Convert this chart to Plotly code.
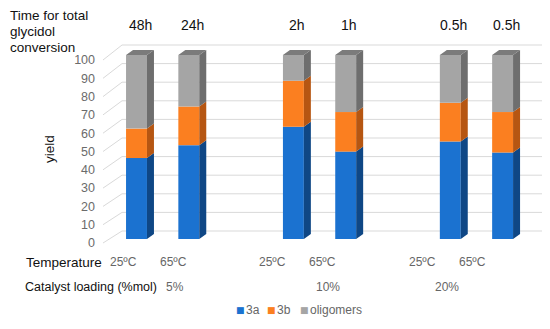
import plotly.graph_objects as go

# ---------------- data ----------------
positions = [0, 1, 3, 4, 6, 7]          # slot index of each bar
yield_3a = [44, 51, 61, 47.5, 53, 47]
yield_3b = [16, 21, 25, 21.5, 21, 22]
yield_olig = [40, 28, 14, 31, 26, 31]
times = ["48h", "24h", "2h", "1h", "0.5h", "0.5h"]
temperatures = ["25ºC", "65ºC", "25ºC", "65ºC", "25ºC", "65ºC"]
loadings = ["5%", "10%", "20%"]
loading_pos = [0.74, 3.66, 5.94]
y_ticks = list(range(0, 101, 10))

# ---------------- geometry (reference pixels) ----------------
W, H = 550, 329
OFF = 8                          # page body margin
L, R, T, B = 103, 542, 40, 245
SLOT = 52.3
X0 = -(136.5 - L) / SLOT
X1 = X0 + (R - L) / SLOT
PXU = 1.84                      # front-scale px per unit
FRONT0 = 239                    # px of value 0 (front)
Y2R = [(FRONT0 - B) / PXU, (FRONT0 - T) / PXU]
LBL0, LPXU = 243, 1.83          # label scale
Y1R = [(LBL0 - B) / LPXU, (LBL0 - T) / LPXU]
BW = 0.4
DX = 7 / SLOT
DY = 5 / PXU

def py(p):
    return (B - p) / (B - T)

def pxp(p):
    return (p - L) / (R - L)

fig = go.Figure()

# gridlines (3D wall) on base axes, label scale
gx, gy = [], []
wall_x = (122 - 136.5) / SLOT
for v in y_ticks:
    back = (LBL0 - (231 - 1.86 * v)) / LPXU
    gx += [X0, wall_x, X1, None]
    gy += [v, back, back, None]
fig.add_trace(go.Scatter(x=gx, y=gy, mode="lines", line=dict(color="#D9D9D9", width=1),
                         hoverinfo="skip", showlegend=False, xaxis="x", yaxis="y"))

series = [
    ("3a", yield_3a, "#1B72D0", "#0F4785"),
    ("3b", yield_3b, "#FB7F20", "#B65612"),
    ("oligomers", yield_olig, "#A5A5A5", "#6E6E6E"),
]

base = [0] * len(positions)
for name, vals, c, cs in series:
    fig.add_trace(go.Bar(x=positions, y=vals, base=base, name=name, width=BW,
                         marker=dict(color=c, line=dict(width=0)),
                         showlegend=False, xaxis="x2", yaxis="y2"))
    sx, sy = [], []
    for p, b0, v in zip(positions, base, vals):
        xr = p + BW / 2
        y0, y1 = b0, b0 + v
        sx += [xr, xr + DX, xr + DX, xr, xr, None]
        sy += [y0, y0 + DY, y1 + DY, y1, y0, None]
    fig.add_trace(go.Scatter(x=sx, y=sy, mode="lines", fill="toself", fillcolor=cs,
                             line=dict(width=0, color=cs), hoverinfo="skip",
                             showlegend=False, xaxis="x2", yaxis="y2"))
    base = [b + v for b, v in zip(base, vals)]

# top faces
tx, ty = [], []
for p, top in zip(positions, base):
    xl, xr = p - BW / 2, p + BW / 2
    tx += [xl, xl + DX, xr + DX, xr, xl, None]
    ty += [top, top + DY, top + DY, top, top, None]
fig.add_trace(go.Scatter(x=tx, y=ty, mode="lines", fill="toself", fillcolor="#7B7B7B",
                         line=dict(width=0, color="#7B7B7B"), hoverinfo="skip",
                         showlegend=False, xaxis="x2", yaxis="y2"))

FONT = "Liberation Sans, Arial"
black = dict(family=FONT, size=13.5, color="#111111")
grey = dict(family=FONT, size=12, color="#666666")

ann = []
for i, line in enumerate(["Time for total", "glycidol", "conversion"]):
    ann.append(dict(text=line, x=pxp(8), y=py([16, 31.5, 47][i]), xref="paper", yref="paper",
                    xanchor="left", yanchor="middle", showarrow=False, font=black))
for p, t in zip(positions, times):
    ann.append(dict(text=t, x=p + DX / 2, y=py(25.5), xref="x2", yref="paper",
                    xanchor="center", yanchor="middle", showarrow=False,
                    font=dict(family=FONT, size=14, color="#111111")))
ann.append(dict(text="Temperature", x=pxp(24), y=py(262), xref="paper", yref="paper",
                xanchor="left", yanchor="middle", showarrow=False, font=black))
ann.append(dict(text="Catalyst loading (%mol)", x=pxp(23), y=py(287), xref="paper", yref="paper",
                xanchor="left", yanchor="middle", showarrow=False,
                font=dict(family=FONT, size=12.5, color="#111111")))
for p, t in zip(positions, temperatures):
    ann.append(dict(text=t, x=-0.249 + 0.952 * p, y=py(262), xref="x2", yref="paper",
                    xanchor="center", yanchor="middle", showarrow=False, font=grey))
for p, t in zip(loading_pos, loadings):
    ann.append(dict(text=t, x=p, y=py(287), xref="x2", yref="paper",
                    xanchor="center", yanchor="middle", showarrow=False, font=grey))
ann.append(dict(text="yield", x=pxp(49), y=py(149), xref="paper", yref="paper",
                xanchor="center", yanchor="middle", showarrow=False, textangle=-90, font=black))

# legend drawn as text
leg_sq_x = [240, 271, 304]
for (name, _, c, _), sxp in zip(series, leg_sq_x):
    ann.append(dict(text="■", x=pxp(sxp), y=py(310), xref="paper", yref="paper",
                    xanchor="center", yanchor="middle", showarrow=False,
                    font=dict(family="DejaVu Sans", size=9, color=c)))
    ann.append(dict(text=name, x=pxp(sxp + 4), y=py(310), xref="paper", yref="paper",
                    xanchor="left", yanchor="middle", showarrow=False,
                    font=dict(family=FONT, size=12, color="#666666")))

fig.update_layout(
    width=W, height=H,
    margin=dict(l=L - OFF, r=W - (R - OFF), t=T - OFF, b=H - (B - OFF), autoexpand=False),
    paper_bgcolor="white", plot_bgcolor="white",
    barmode="overlay",
    showlegend=False,
    xaxis=dict(range=[X0, X1], visible=False, fixedrange=True, automargin=False),
    yaxis=dict(range=Y1R, tickvals=y_ticks, showgrid=False, zeroline=False, showline=False,
               ticks="", automargin=False, ticklabelstandoff=7,
               tickfont=dict(family=FONT, size=12.5, color="#6B6B6B"),
               fixedrange=True),
    xaxis2=dict(range=[X0, X1], overlaying="x", visible=False, fixedrange=True, automargin=False),
    yaxis2=dict(range=Y2R, overlaying="y", visible=False, fixedrange=True, automargin=False),
    annotations=ann,
)

fig.write_html("out.html")
